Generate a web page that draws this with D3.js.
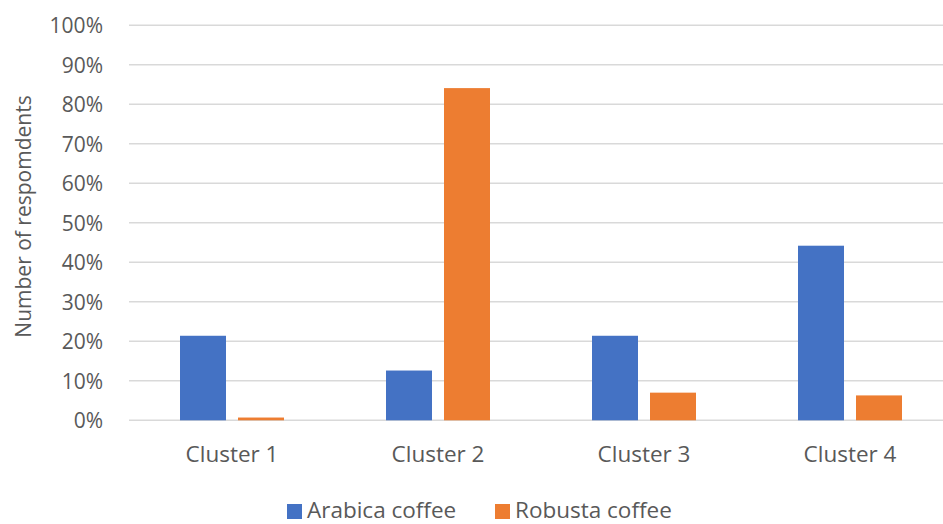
<!DOCTYPE html>
<html>
<head>
<meta charset="utf-8">
<script src="https://cdn.jsdelivr.net/npm/d3@7"></script>
<style>
  html, body { margin: 0; padding: 0; background: #fff; }
  svg { display: block; font-family: "Open Sans", sans-serif; }
</style>
</head>
<body>
<svg id="chart" width="943" height="524"></svg>
<script>
const categories = ["Cluster 1", "Cluster 2", "Cluster 3", "Cluster 4"];
const seriesNames = ["Arabica coffee", "Robusta coffee"];
const arabica = [0.214, 0.126, 0.214, 0.442];
const robusta = [0.007, 0.841, 0.070, 0.063];
const yTicks = [0, 0.1, 0.2, 0.3, 0.4, 0.5, 0.6, 0.7, 0.8, 0.9, 1.0];
const colors = ["#4472C4", "#ED7D31"];
const yTitle = "Number of respomdents";

(function () {
const seriesValues = [arabica, robusta];
const svg = d3.select("#chart");
const pLeft = 129, pRight = 953, pTop = 25.3, pBottom = 420.3;
const textColor = "#595959";
const fs = 21, fsBig = 22.5;

const x0 = d3.scaleBand().domain(categories).range([pLeft, pRight]).padding(0);
const x1 = d3.scaleBand().domain(seriesNames)
  .range([51, 155]).paddingInner(0.207).paddingOuter(0);
const y = d3.scaleLinear().domain([0, 1]).range([pBottom, pTop]);

// gridlines
svg.append("g").selectAll("line").data(yTicks).join("line")
  .attr("x1", pLeft).attr("x2", pRight)
  .attr("y1", d => y(d)).attr("y2", d => y(d))
  .attr("stroke", "#d9d9d9").attr("stroke-width", 1.6);

// y axis labels
const yAxis = d3.axisLeft(y).tickValues(yTicks).tickFormat(d3.format(".0%")).tickSize(0).tickPadding(0);
const gy = svg.append("g").attr("transform", `translate(103,0)`).call(yAxis);
gy.select(".domain").remove();
gy.selectAll("text").attr("fill", textColor).attr("font-size", fs)
  .attr("font-family", "Open Sans, sans-serif").attr("dy", "0.36em");

// bars
const data = [];
categories.forEach((c, i) => seriesNames.forEach((s, j) => data.push({c, s, v: seriesValues[j][i], j})));
svg.append("g").selectAll("rect").data(data).join("rect")
  .attr("x", d => x0(d.c) + x1(d.s))
  .attr("width", x1.bandwidth())
  .attr("y", d => y(d.v))
  .attr("height", d => y(0) - y(d.v))
  .attr("fill", d => colors[d.j]);

// x axis labels
const xAxis = d3.axisBottom(x0).tickSize(0).tickPadding(0);
const gx = svg.append("g").attr("transform", `translate(0,462)`).call(xAxis);
gx.select(".domain").remove();
gx.selectAll("text").attr("fill", textColor).attr("font-size", fsBig)
  .attr("font-family", "Open Sans, sans-serif").attr("dy", 0).attr("y", 0);

// y title
svg.append("text")
  .attr("transform", `translate(31,216.5) rotate(-90)`)
  .attr("text-anchor", "middle")
  .attr("fill", textColor).attr("font-size", fs)
  .text(yTitle);

// legend
const legendX = [287, 495];
const lg = svg.append("g").selectAll("g").data(seriesNames).join("g")
  .attr("transform", (d, i) => `translate(${legendX[i]},0)`);
lg.append("rect").attr("x", 0).attr("y", 504).attr("width", 15).attr("height", 15)
  .attr("fill", (d, i) => colors[i]);
lg.append("text").attr("x", 20).attr("y", 517.5).attr("fill", textColor).attr("font-size", fsBig)
  .text(d => d);
})();
</script>
</body>
</html>
